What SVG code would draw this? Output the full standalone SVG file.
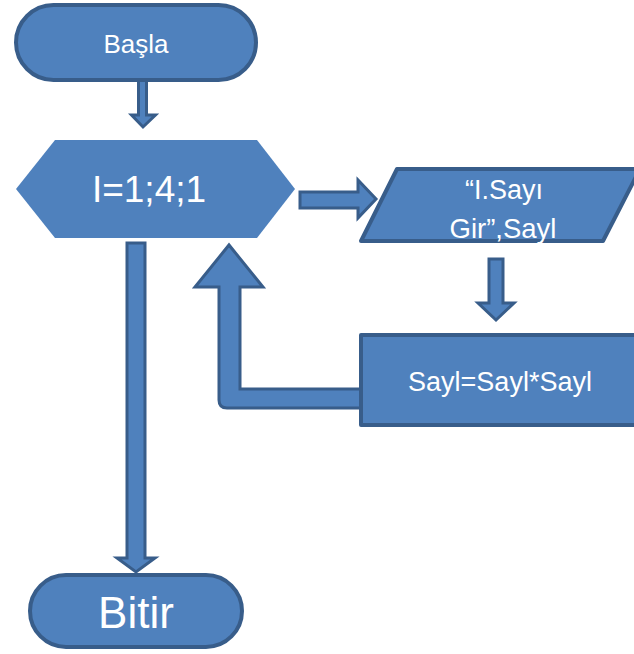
<svg xmlns="http://www.w3.org/2000/svg" width="634" height="654" viewBox="0 0 634 654">
  <style>
    .shape { fill: #4F81BD; stroke: #385D8A; stroke-width: 4; stroke-linejoin: round; }
    .plain { fill: #4F81BD; stroke: none; }
    .arrow { fill: #4F81BD; stroke: #385D8A; stroke-width: 3; stroke-linejoin: miter; }
    .label { fill: #FFFFFF; font-family: "Liberation Sans", Arial, sans-serif; text-anchor: middle; }
  </style>
  <rect width="634" height="654" fill="#FFFFFF"/>

  <!-- block arrows -->
  <g id="connectors">
    <!-- start -> loop -->
    <path class="arrow" d="M138.5 80 L146.5 80 L146.5 115 L155.5 115 L143 127 L131.5 115 L138.5 115 Z"/>
    <!-- loop -> input -->
    <path class="arrow" d="M300 192 L358 192 L358 180 L376 199 L358 218 L358 208 L300 208 Z"/>
    <!-- input -> process -->
    <path class="arrow" d="M489 259 L503 259 L503 303 L514 303 L496 320 L478 303 L489 303 Z"/>
    <!-- process -> back to loop -->
    <path class="arrow" stroke-linejoin="round" d="M364 389 L240 389 L240 287 L263 287 L229 245 L195 287 L219 287 L219 400 Q219 408 227 408 L364 408 Z"/>
    <!-- loop -> end -->
    <path class="arrow" d="M127 243 L145 243 L145 558 L155 558 L136 572 L117 558 L127 558 Z"/>
  </g>

  <g id="start">
    <rect class="shape" x="16" y="5" width="240" height="75" rx="37.5"/>
    <text class="label" x="136" y="53" font-size="26">Başla</text>
  </g>

  <g id="loop">
    <polygon class="plain" points="16,189 55,140 257,140 295,189 257,238 55,238"/>
    <text class="label" x="149" y="202" font-size="37">I=1;4;1</text>
  </g>

  <g id="input">
    <polygon class="shape" points="397,169 640,169 603,241 361,241"/>
    <text class="label" x="504" y="199" font-size="27">“I.Sayı</text>
    <text class="label" x="503" y="238" font-size="27.5">Gir”,Sayl</text>
  </g>

  <g id="process">
    <rect class="shape" x="361" y="335" width="290" height="90"/>
    <text class="label" x="500" y="391" font-size="27">Sayl=Sayl*Sayl</text>
  </g>

  <g id="end">
    <rect class="shape" x="30" y="575" width="212" height="72" rx="36"/>
    <text class="label" x="136" y="628" font-size="44">Bitir</text>
  </g>
</svg>
